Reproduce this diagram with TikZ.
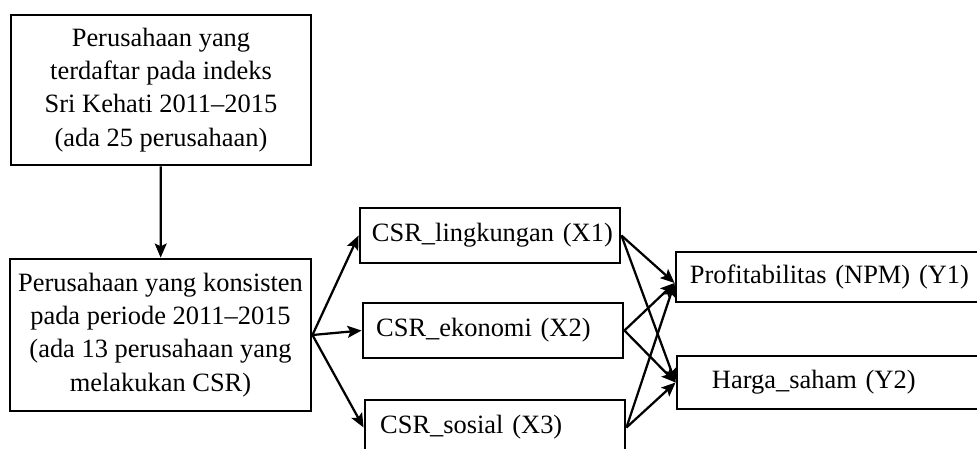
\documentclass[tikz,border=0pt]{standalone}
\usepackage{fontspec}
\setmainfont{Liberation Serif}
\usetikzlibrary{arrows.meta}
\tikzset{font=\fontsize{18.8}{23.6}\selectfont}
\tikzstyle{bigbox}=[draw,line width=2pt,align=center,inner sep=0pt]
\tikzset{varbox/.style={draw,line width=2pt,align=left,inner sep=0pt,text width=6.5cm,minimum height=1.375cm,execute at begin node={\hspace*{#1}}},
varbox/.default=0.3cm}
\begin{document}
\begin{tikzpicture}[x=0.025cm,y=-0.025cm]
\useasboundingbox (0,0) rectangle (977,448);
\clip (0,0) rectangle (977,448);
\node[bigbox,minimum width=7.5cm,minimum height=3.75cm] (A) at (161,90) {Perusahaan yang\\terdaftar pada indeks\\Sri Kehati 2011--2015\\(ada 25 perusahaan)};
\node[bigbox,minimum width=7.525cm,minimum height=3.8cm] (B) at (160.5,335) {Perusahaan yang konsisten\\pada periode 2011--2015\\(ada 13 perusahaan yang\\melakukan CSR)};
\node[varbox] (X1) at (490,235.5) {CSR\_lingkungan (X1)};
\node[varbox=0.33cm] (X2) at (493,330.5) {CSR\_ekonomi (X2)};
\node[varbox=0.38cm] (X3) at (495,427.5) {CSR\_sosial (X3)};
\node[varbox=0.35cm,text width=8.2cm,minimum height=1.25cm] (Y1) at (840,277) {Profitabilitas (NPM) (Y1)};
\node[varbox=0.875cm,text width=8.2cm,minimum height=1.325cm] (Y2) at (841,382.5) {Harga\_saham (Y2)};
\path[->,line width=1.6pt,>={Stealth[length=10pt,width=8.5pt,inset=2pt]}]
(A) edge (B)
(B.east) edge (X1.west)
(B.east) edge (X2.west)
(B.east) edge (X3.west)
(X1.east) edge ([yshift=-0.15cm]Y1.west)
(X1.east) edge (Y2.west)
(X2.east) edge ([yshift=-0.15cm]Y1.west)
(X2.east) edge (Y2.west)
(X3.east) edge ([yshift=-0.15cm]Y1.west)
(X3.east) edge (Y2.west);
\end{tikzpicture}
\end{document}
